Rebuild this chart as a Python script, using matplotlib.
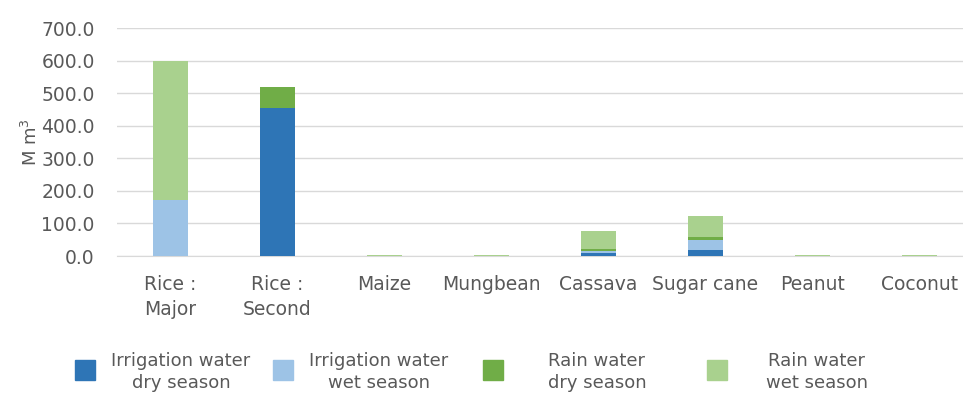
import matplotlib
matplotlib.use('Agg')
import matplotlib.pyplot as plt
from matplotlib.patches import Rectangle
import numpy as np

# crop water use per season (M m3)
crops = ['Rice :\nMajor', 'Rice :\nSecond', 'Maize', 'Mungbean', 'Cassava',
         'Sugar cane', 'Peanut', 'Coconut']
irr_dry = [0, 455, 0, 0, 10, 19, 0, 0]
irr_wet = [172, 0, 0, 0, 4, 30, 0, 0]
rain_dry = [0, 65, 0, 0, 8, 8, 0, 0]
rain_wet = [426, 0, 4, 4, 55, 67, 4, 4]

series_labels = ['Irrigation water\ndry season', 'Irrigation water\nwet season',
                 'Rain water\ndry season', 'Rain water\nwet season']
colors = ['#2E75B6', '#9DC3E6', '#70AD47', '#A9D18E']

plt.rcParams['font.family'] = ['DejaVu Sans']
txt = '#595959'
W, H = 963, 394

fig = plt.figure(figsize=(9.63, 3.94), dpi=100)
ax = fig.add_axes([117 / W, 1 - 256 / H, 856 / W, 228 / H])

x = np.arange(len(crops))
bottom = np.zeros(len(crops))
for vals, col, lab in zip([irr_dry, irr_wet, rain_dry, rain_wet], colors, series_labels):
    ax.bar(x, vals, width=0.32, bottom=bottom, color=col, label=lab, zorder=3)
    bottom += np.array(vals)

ax.set_xlim(-0.5, len(crops) - 0.5)
ax.set_ylim(0, 700)
ax.set_yticks(np.arange(0, 701, 100))
ax.yaxis.set_major_formatter(matplotlib.ticker.FormatStrFormatter('%.1f'))
ax.set_xticks(x)
ax.set_xticklabels(crops, fontsize=13.5, color=txt, linespacing=1.35)
ax.tick_params(axis='y', labelsize=13.5, colors=txt, length=0, pad=16)
ax.tick_params(axis='x', length=0, pad=14)
ax.grid(axis='y', color='#D9D9D9', lw=1, zorder=0)
for s in ['top', 'right', 'left']:
    ax.spines[s].set_visible(False)
ax.spines['bottom'].set_color('#D9D9D9')
ax.set_ylabel('M m$^3$', fontsize=13, color=txt, labelpad=0)

# legend below the plot, drawn by hand to match the spacing of the original
sq_x = [85, 283, 493, 717]
txt_x = [181, 379, 597, 817]
for sx, tx, col, lab in zip(sq_x, txt_x, colors, series_labels):
    fig.add_artist(Rectangle(((sx - 10) / W, 1 - 380 / H), 20 / W, 20 / H,
                             transform=fig.transFigure, color=col))
    fig.text(tx / W, 1 - 372 / H, lab, ha='center', va='center', fontsize=13,
             color=txt, multialignment='center', linespacing=1.25)

fig.savefig('out.png', dpi=100)
